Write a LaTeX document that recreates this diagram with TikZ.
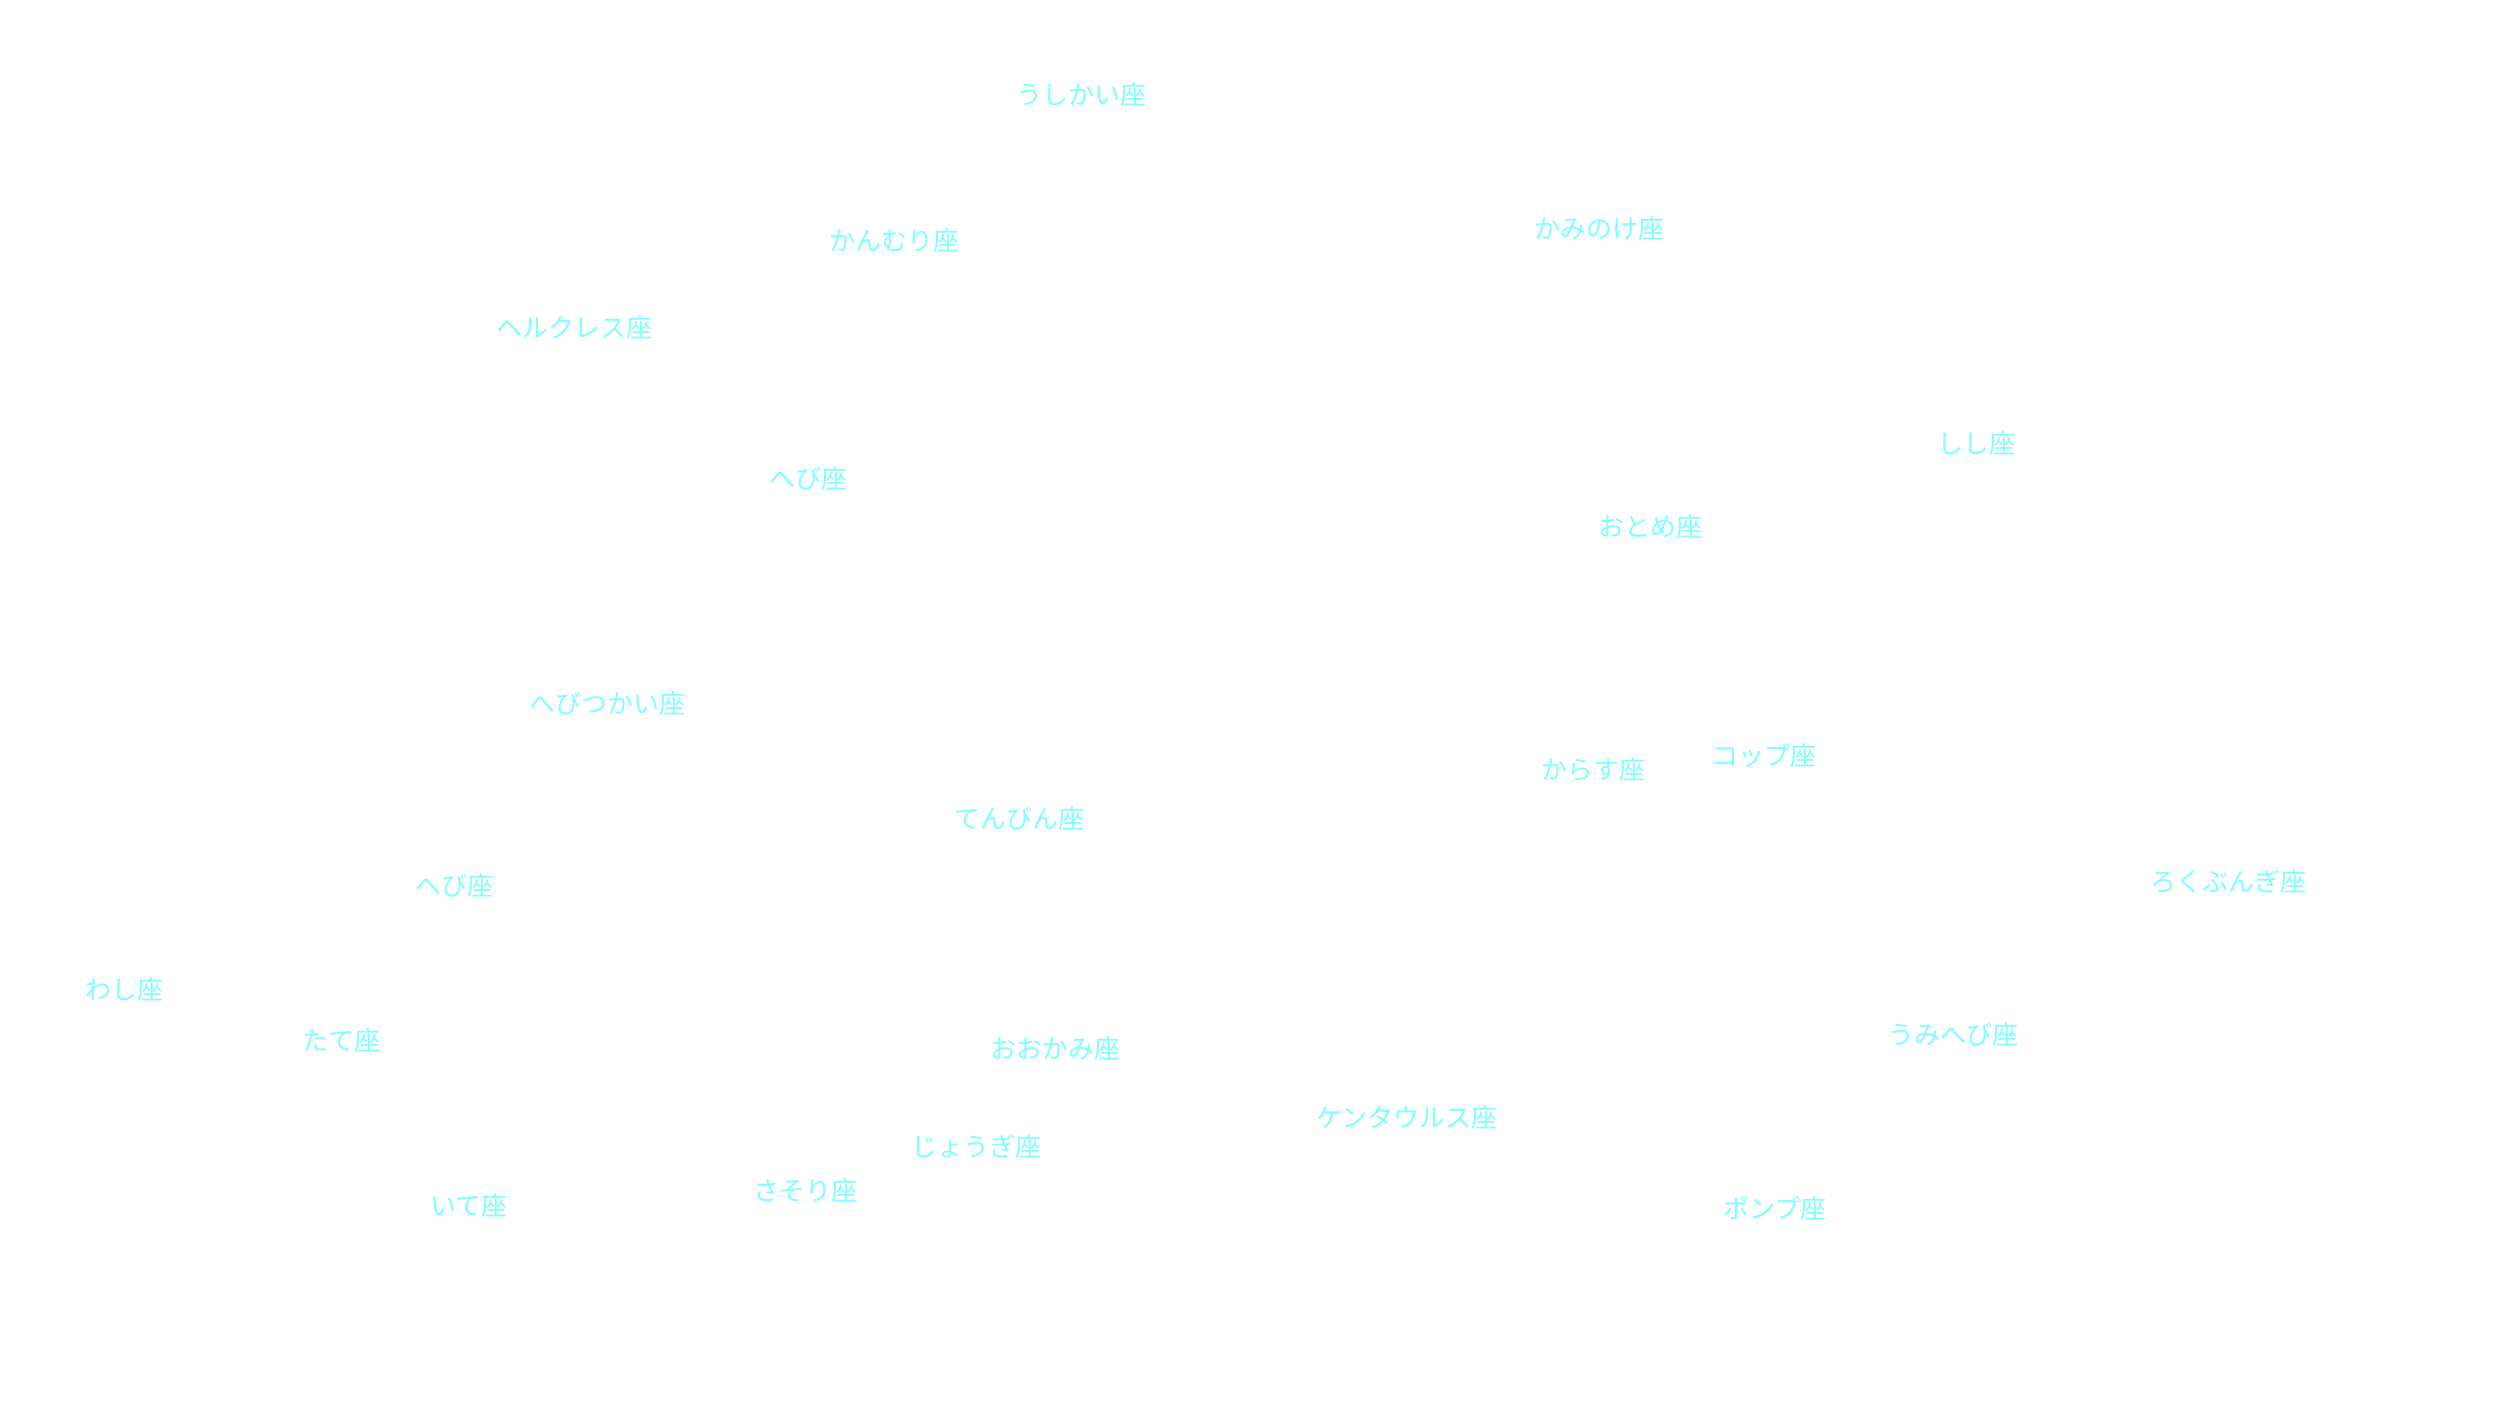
\documentclass[tikz,border=0pt]{standalone}
\usepackage{fontspec}
\newfontfamily\cjk{Noto Sans CJK JP}
\definecolor{starcyan}{HTML}{80FFFF}
\tikzset{
  constname/.style={text=starcyan, font=\cjk\fontsize{7.4}{9}\selectfont, inner sep=0pt},
}
\begin{document}
\begin{tikzpicture}[x=0.01595cm, y=-0.01596cm]

\useasboundingbox[fill=white](0,0) rectangle (1567.4,877.2);

%% constellations
\node[constname] (usikai) at (678,59) {うしかい座};
\node[constname] (kanmuri) at (561,151) {かんむり座};
\node[constname] (kaminoke) at (1003,143) {かみのけ座};
\node[constname] (herc) at (360,205) {ヘルクレス座};
\node[constname] (shishi) at (1239,278) {しし座};
\node[constname] (hebi1) at (507,300) {へび座};
\node[constname] (otome) at (1035,330) {おとめ座};
\node[constname] (hebitsukai) at (381,441) {へびつかい座};
\node[constname] (coppu) at (1106,473) {コップ座};
\node[constname] (karasu) at (999,482) {からす座};
\node[constname] (tenbin) at (639,513) {てんびん座};
\node[constname] (rokubungi) at (1397,552) {ろくぶんぎ座};
\node[constname] (hebi2) at (285,555) {へび座};
\node[constname] (washi) at (78,620) {わし座};
\node[constname] (umihebi) at (1225,648) {うみへび座};
\node[constname] (tate) at (214,652) {たて座};
\node[constname] (ookami) at (662,657) {おおかみ座};
\node[constname] (centaurus) at (882,700) {ケンタウルス座};
\node[constname] (jougi) at (612,718) {じょうぎ座};
\node[constname] (sasori) at (505,746) {さそり座};
\node[constname] (ite) at (294,755) {いて座};
\node[constname] (ponpu) at (1113,757) {ポンプ座};

\end{tikzpicture}
\end{document}
